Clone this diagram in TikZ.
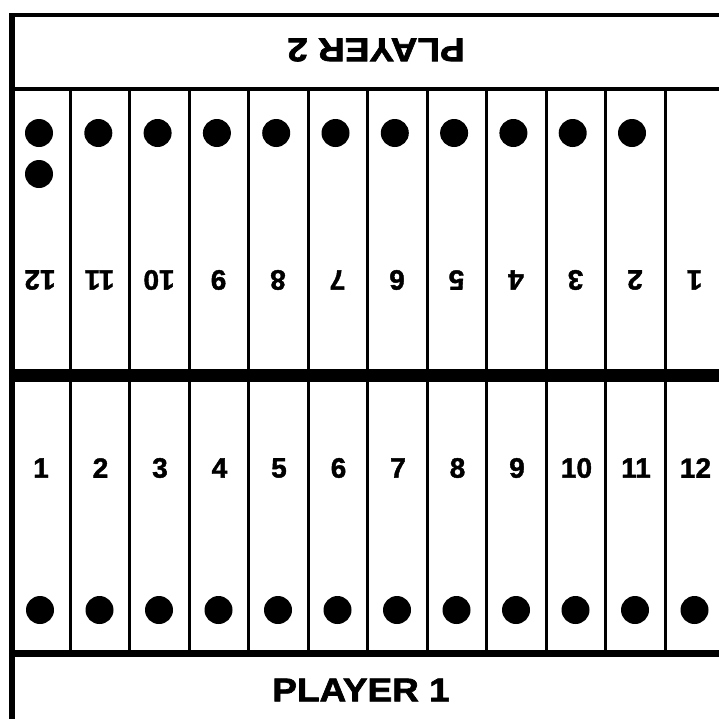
\documentclass[tikz,border=0pt]{standalone}
\usepackage{fontspec}
\setmainfont{Liberation Sans}[BoldFeatures={FakeBold=1.5}]
\newfontfamily\playerfont{Liberation Sans}[FakeStretch=1.12, BoldFeatures={FakeBold=2}]
\begin{document}
\begin{tikzpicture}[x=1pt, y=-1pt,
    divider/.style={line width=3pt},
    stone/.style={circle, fill=black, minimum size=28pt, inner sep=0pt},
    pitnum/.style={font=\fontsize{28}{28}\selectfont\bfseries, inner sep=0pt},
    playerlabel/.style={font=\fontsize{33}{33}\playerfont\bfseries, inner sep=0pt}]
    \useasboundingbox (0,0) rectangle (719,718);
    \clip (0,0) rectangle (719,718);

    % board frame
    \draw [line width=6pt] (12,740) -- (12,12.75);
    \draw [line width=4.5pt] (9,15) -- (740,15);
    \draw [line width=3.5pt] (12,89) -- (740,89);
    \draw [line width=13pt] (12,375.5) -- (740,375.5);
    \draw [line width=7pt] (12,653.5) -- (740,653.5);

    % pit dividers
    \foreach \i in {0,...,11} {
        \draw [divider] (70+59.5*\i,89) -- (70+59.5*\i,375.5);
        \draw [divider] (70+59.5*\i,375.5) -- (70+59.5*\i,653.5);
    }

    % player labels
    \node [playerlabel, rotate=180] (p2label) at (376,50) {PLAYER 2};
    \node [playerlabel] (p1label) at (361,690) {PLAYER 1};

    % pit numbers and stones
    \foreach \c in {0,...,11} {
        \pgfmathtruncatemacro{\top}{12-\c}
        \pgfmathtruncatemacro{\bot}{\c+1}
        \node [pitnum, rotate=180] (top-\top) at (40+59.5*\c,280) {\top};
        \node [pitnum] (bot-\bot) at (41+59.5*\c,468) {\bot};
        \node [stone] (botstone-\bot) at (40+59.5*\c,610) {};
    }
    \foreach \c in {0,...,10} {
        \node [stone] (topstone-\c) at (39+59.3*\c,133) {};
    }
    \node [stone] (topstone-extra) at (39,174) {};
\end{tikzpicture}
\end{document}
